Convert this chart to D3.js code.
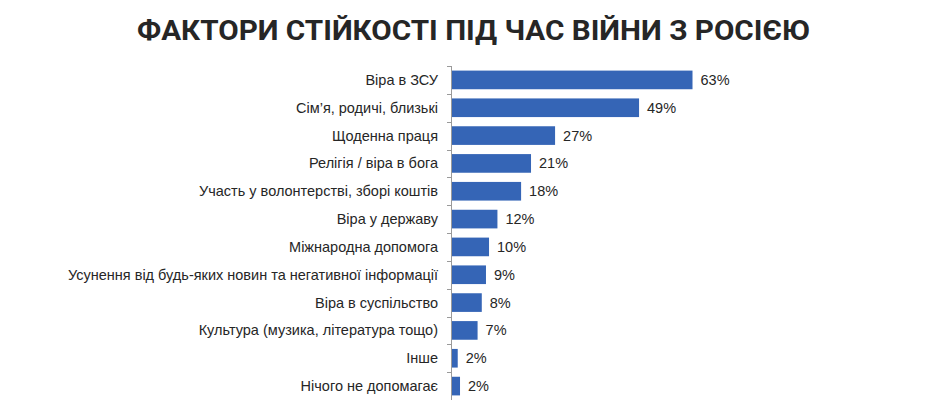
<!DOCTYPE html>
<html><head><meta charset="utf-8">
<script src="https://cdn.jsdelivr.net/npm/d3@7"></script>
<style>html,body{margin:0;padding:0;background:#fff;}</style>
</head><body>
<script>
const title = "ФАКТОРИ СТІЙКОСТІ ПІД ЧАС ВІЙНИ З РОСІЄЮ";
const categories = [
  "Віра в ЗСУ",
  "Сім’я, родичі, близькі",
  "Щоденна праця",
  "Релігія / віра в бога",
  "Участь у волонтерстві, зборі коштів",
  "Віра у державу",
  "Міжнародна допомога",
  "Усунення від будь-яких новин та негативної інформації",
  "Віра в суспільство",
  "Культура (музика, література тощо)",
  "Інше",
  "Нічого не допомагає"
];
const values = [63, 49, 27, 20.7, 18.1, 11.9, 9.7, 8.9, 7.8, 6.7, 1.5, 2.1];
const labels = ["63%","49%","27%","21%","18%","12%","10%","9%","8%","7%","2%","2%"];

const W = 942, H = 409;
const svg = d3.select("body").append("svg").attr("width", W).attr("height", H)
  .style("font-family", "'Liberation Sans', Arial, sans-serif");

svg.append("text").text(title)
  .attr("x", 137).attr("y", 39.5)
  .attr("textLength", 673).attr("lengthAdjust", "spacingAndGlyphs")
  .style("font-family", "Roboto, sans-serif").style("font-weight", 700)
  .style("font-size", "27px").attr("fill", "#262626");

const x0 = 452;
const x = d3.scaleLinear().domain([0, 63]).range([x0, 692.5]);
const y = d3.scaleBand().domain(categories).range([66, 400]).paddingInner(0.33).paddingOuter(0.165);

const g = svg.append("g");
g.selectAll("rect.bar").data(categories).join("rect")
  .attr("class", "bar")
  .attr("x", x0).attr("y", d => y(d))
  .attr("width", (d, i) => x(values[i]) - x0)
  .attr("height", y.bandwidth())
  .attr("fill", "#3565b6");

const bounds = d3.range(categories.length).map(i => 66 + i * (334 / categories.length));
g.append("line").attr("x1", x0 - 0.5).attr("x2", x0 - 0.5).attr("y1", 66).attr("y2", 400)
  .attr("stroke", "#9a9a9a").attr("stroke-width", 1);
g.selectAll("line.tick").data(bounds).join("line").attr("class", "tick")
  .attr("x1", x0 - 5).attr("x2", x0).attr("y1", d => Math.round(d) + 0.5).attr("y2", d => Math.round(d) + 0.5)
  .attr("stroke", "#9a9a9a").attr("stroke-width", 1);

g.selectAll("text.cat").data(categories).join("text").attr("class", "cat")
  .attr("x", 438).attr("y", d => y(d) + y.bandwidth() / 2)
  .attr("dy", "0.35em").attr("text-anchor", "end")
  .style("font-size", "14.5px").attr("fill", "#262626").text(d => d);

g.selectAll("text.val").data(categories).join("text").attr("class", "val")
  .attr("x", (d, i) => x(values[i]) + 8).attr("y", d => y(d) + y.bandwidth() / 2)
  .attr("dy", "0.35em").style("font-size", "14.5px").attr("fill", "#262626")
  .text((d, i) => labels[i]);
</script>
</body></html>
